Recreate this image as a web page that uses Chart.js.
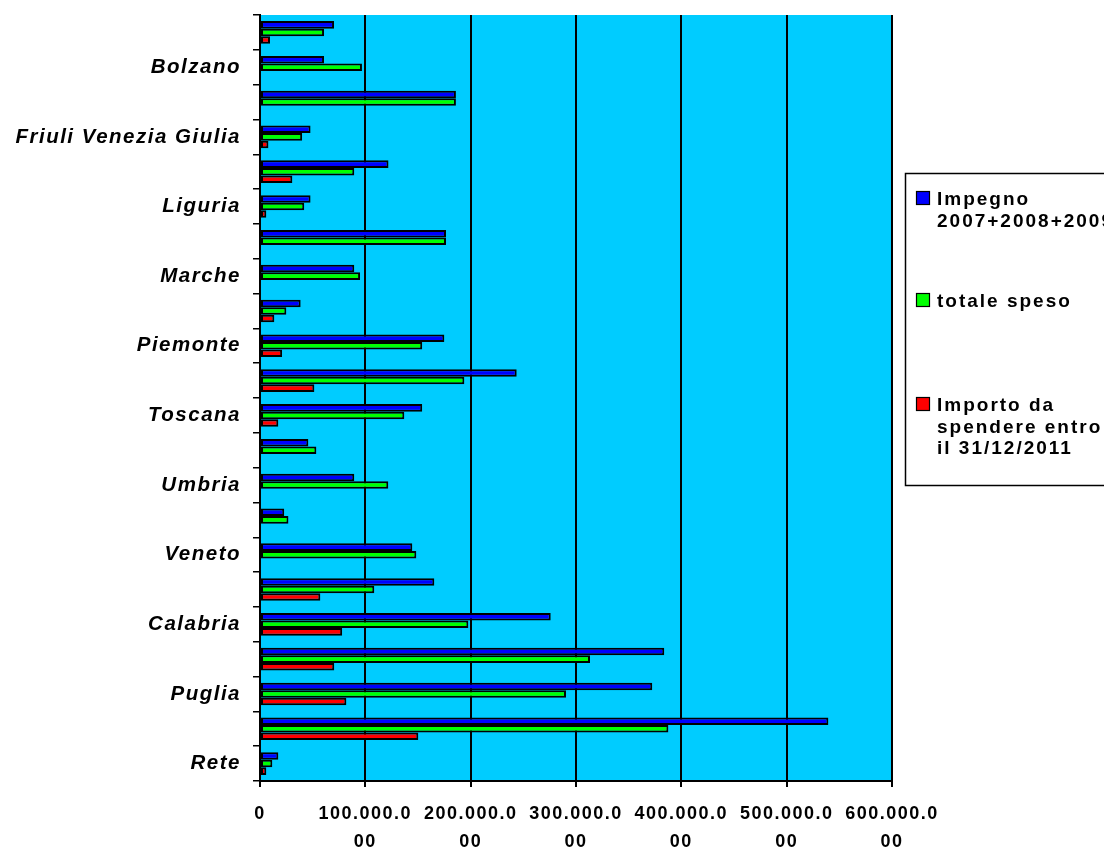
<!DOCTYPE html>
<html>
<head>
<meta charset="utf-8">
<script src="https://cdn.jsdelivr.net/npm/chart.js@4.4.1/dist/chart.umd.min.js"></script>
<style>
  html, body { margin: 0; padding: 0; background: #fff; }
  #wrap { width: 1104px; height: 852px; position: relative; }
</style>
</head>
<body>
<div id="wrap"><canvas id="chart"></canvas></div>
<script>
/* ---------------- DATA ---------------- */
const REGIONI = [
  "Abruzzo", "Bolzano", "Emilia Romagna", "Friuli Venezia Giulia", "Lazio", "Liguria",
  "Lombardia", "Marche", "Molise", "Piemonte", "Sardegna", "Toscana", "Trento", "Umbria",
  "Valle d'Aosta", "Veneto", "Basilicata", "Calabria", "Campania", "Puglia", "Sicilia", "Rete"
];
// euro
const IMPEGNO = [
  70300000, 60800000, 186000000, 48000000, 122000000, 48000000,
  176600000, 89500000, 38600000, 175000000, 243700000, 154000000, 45900000, 89500000,
  23000000, 144600000, 165500000, 276000000, 383800000, 372400000, 539600000, 17400000
];
const SPESO = [
  60800000, 96800000, 186000000, 40000000, 89500000, 42000000,
  176600000, 95000000, 25000000, 154000000, 194000000, 137000000, 53500000, 121800000,
  27000000, 148400000, 108500000, 197800000, 313300000, 290500000, 387700000, 11700000
];
const DA_SPENDERE = [
  9500000, null, null, 8000000, 30700000, 6000000,
  null, null, 13600000, 21000000, 51600000, 17400000, null, null,
  null, null, 57300000, 78000000, 70500000, 82000000, 150300000, 6000000
];
const SERIES_NAMES = ["Impegno 2007+2008+2009", "totale speso", "Importo da spendere entro il 31/12/2011"];
const LEGEND_LINES = [["Impegno", "2007+2008+2009"], ["totale speso"], ["Importo da", "spendere entro", "il 31/12/2011"]];
const COLORS = ["#0000FF", "#00FF00", "#FF0000"];
const X_MAX = 600000000;
const X_STEP = 100000000;
/* -------------------------------------- */

const FONT = '"Liberation Sans", Arial, sans-serif';

/* 100000000 -> ["100.000.0","00"] like the wrapped Excel labels */
function fmtTick(v){
  if(v === 0) return "0";
  const s = Math.round(v).toString().replace(/\B(?=(\d{3})+(?!\d))/g, ".");
  return s.length > 9 ? [s.slice(0, 9), s.slice(9)] : s;
}

const spacing = {
  id: "spacing",
  beforeUpdate(chart){ chart.ctx.letterSpacing = "1.5px"; },
  beforeDraw(chart){ chart.ctx.letterSpacing = "1.5px"; }
};

const plotBg = {
  id: "plotBg",
  beforeDraw(chart){
    const {ctx, chartArea: a} = chart;
    ctx.save();
    ctx.fillStyle = "#00CCFF";
    ctx.fillRect(a.left, a.top, a.right - a.left, a.bottom - a.top);
    ctx.restore();
  }
};

const legendBox = {
  id: "legendBox",
  afterDraw(chart){
    const ctx = chart.ctx;
    ctx.save();
    ctx.letterSpacing = "2px";
    ctx.strokeStyle = "#000";
    ctx.lineWidth = 1.5;
    ctx.strokeRect(905.5, 173.5, 230, 312);
    const squareTop = [191, 293, 397];
    ctx.font = "bold 19px " + FONT;
    ctx.textBaseline = "alphabetic";
    ctx.textAlign = "left";
    LEGEND_LINES.forEach((lines, i) => {
      ctx.fillStyle = COLORS[i];
      ctx.fillRect(916.5, squareTop[i] + 0.5, 13, 13);
      ctx.strokeStyle = "#000";
      ctx.lineWidth = 1.2;
      ctx.strokeRect(916.5, squareTop[i] + 0.5, 13, 13);
      ctx.fillStyle = "#000";
      lines.forEach((t, j) => ctx.fillText(t, 937, squareTop[i] + 14 + j * 21.5));
    });
    ctx.restore();
  }
};

const barStyle = {
  borderColor: "#000",
  borderWidth: 2,
  borderSkipped: false,
  categoryPercentage: 0.65,
  barPercentage: 1.0
};

new Chart(document.getElementById("chart"), {
  type: "bar",
  data: {
    labels: REGIONI,
    datasets: [
      Object.assign({label: SERIES_NAMES[0], data: IMPEGNO, backgroundColor: COLORS[0]}, barStyle),
      Object.assign({label: SERIES_NAMES[1], data: SPESO, backgroundColor: COLORS[1]}, barStyle),
      Object.assign({label: SERIES_NAMES[2], data: DA_SPENDERE, backgroundColor: COLORS[2]}, barStyle)
    ]
  },
  options: {
    indexAxis: "y",
    responsive: true,
    maintainAspectRatio: false,
    animation: false,
    layout: { padding: { top: 15, right: 212, bottom: 0, left: 0 } },
    plugins: { legend: { display: false }, tooltip: { enabled: false } },
    scales: {
      y: {
        type: "category",
        offset: true,
        afterFit(s){ s.width = 260; s.paddingTop = 0; s.paddingBottom = 0; },
        grid: { offset: true, drawOnChartArea: false, drawTicks: true, tickLength: 7, color: "#000", lineWidth: 1.5 },
        border: { display: true, color: "#000", width: 2 },
        ticks: {
          autoSkip: false,
          padding: 12,
          color: "#000",
          font: { family: FONT, size: 20.5, weight: "bold", style: "italic" },
          callback(v, i){ return i % 2 === 1 ? this.getLabelForValue(v) : ""; }
        }
      },
      x: {
        type: "linear",
        min: 0,
        max: X_MAX,
        afterFit(s){ s.height = 71; },
        grid: { color: "#000", lineWidth: 2, drawTicks: true, tickLength: 6 },
        border: { display: true, color: "#000", width: 2 },
        ticks: {
          stepSize: X_STEP,
          autoSkip: false,
          maxRotation: 0,
          padding: 13,
          color: "#000",
          font: { family: FONT, size: 18, weight: "bold", lineHeight: 1.55 },
          callback: fmtTick
        }
      }
    }
  },
  plugins: [spacing, plotBg, legendBox]
});
</script>
</body>
</html>
